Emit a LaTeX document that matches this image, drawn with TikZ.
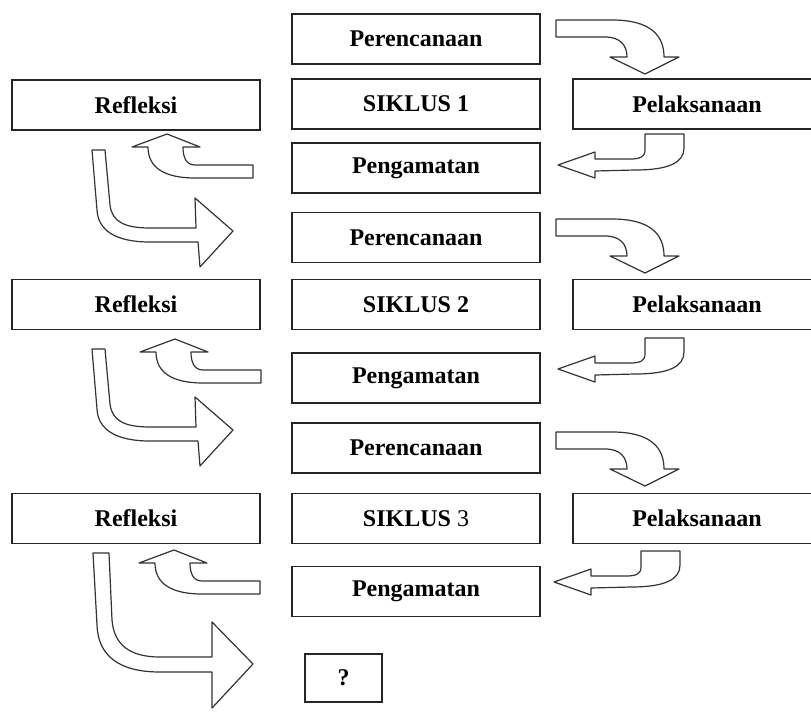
\documentclass[tikz,border=0pt]{standalone}
\usepackage{fontspec}
\setmainfont{Liberation Serif}
\begin{document}
\begin{tikzpicture}[x=0.75pt,y=-0.75pt,
  box/.style={draw=black!85, line width=1.3pt, fill=white, minimum width=186pt, minimum height=37.5pt, inner sep=0pt, font=\fontsize{18}{20}\selectfont\bfseries},
  qbox/.style={box, minimum width=57.75pt, minimum height=36pt},
  blk/.style={draw=black!80, line width=0.9pt, fill=white, line join=round}]
\useasboundingbox (0,0) rectangle (811,711);
\clip (0,0) rectangle (811,711);
\fill[white] (0,0) rectangle (811,711);

% ---------- boxes ----------
\node[box] (p1) at (416,39) {Perencanaan};
\node[box] (r1) at (136,105) {Refleksi};
\node[box] (s1) at (416,104) {SIKLUS 1};
\node[box] (l1) at (697,104) {Pelaksanaan};
\node[box] (g1) at (416,168) {Pengamatan};

\node[box] (p2) at (416,237.5) {Perencanaan};
\node[box] (r2) at (136,304.5) {Refleksi};
\node[box] (s2) at (416,304.5) {SIKLUS 2};
\node[box] (l2) at (697,304.5) {Pelaksanaan};
\node[box] (g2) at (416,378) {Pengamatan};

\node[box] (p3) at (416,448) {Perencanaan};
\node[box] (r3) at (136,518.5) {Refleksi};
\node[box] (s3) at (416,518.5) {SIKLUS {\mdseries 3}};
\node[box] (l3) at (697,518.5) {Pelaksanaan};
\node[box] (g3) at (416,591.5) {Pengamatan};

\node[qbox] (q) at (343.5,678) {?};

% ---------- block arrows ----------
% A: Perencanaan -> Pelaksanaan
\foreach \dx/\dy in {0/0, 0/199, 0/412}{
\draw[blk, shift={(\dx,\dy)}] (556,20) -- (612,20) .. controls (650,20) and (664,35) .. (664,57)
  -- (679,57) -- (645,74) -- (610,57) -- (627,57)
  .. controls (627,45) and (620,37) .. (605,37) -- (556,37) -- cycle;
}
% B: Pelaksanaan -> Pengamatan
\foreach \dx/\dy in {0/0, 0/204, -4/417}{
\draw[blk, shift={(\dx,\dy)}] (645,134) -- (684,134) -- (684,148)
  .. controls (684,162) and (670,170) .. (635,170) -- (595,171) -- (595,178)
  -- (558,165) -- (595,152) -- (595,159) -- (630,159)
  .. controls (640,159) and (645,157) .. (645,150) -- cycle;
}
% C: Pengamatan -> Refleksi
\foreach \dx/\dy in {0/0, 8/205, 7/416}{
\draw[blk, shift={(\dx,\dy)}] (253,165) -- (195,165) .. controls (186,165) and (183,157) .. (183,147)
  -- (200,147) -- (167,134) -- (132,147) -- (148,147)
  .. controls (148,168) and (165,178) .. (195,178) -- (253,178) -- cycle;
}
% D: Refleksi -> next Perencanaan
\foreach \dx/\dy in {0/0, 0/199}{
\draw[blk, shift={(\dx,\dy)}] (92,150) -- (105,150) -- (110,205)
  .. controls (112,222) and (125,228) .. (150,228) -- (196,228) -- (195,198)
  -- (233,231) -- (200,267) -- (198,242) -- (150,242)
  .. controls (115,242) and (98,230) .. (97,210) -- cycle;
}
% D3: Refleksi 3 -> ?
\draw[blk] (93,553) -- (109,553) -- (112,620)
  .. controls (114,645) and (130,657) .. (160,657) -- (212,657) -- (212,622)
  -- (253,664) -- (212,708) -- (212,672) -- (160,672)
  .. controls (118,672) and (98,655) .. (97,625) -- cycle;
\end{tikzpicture}
\end{document}
